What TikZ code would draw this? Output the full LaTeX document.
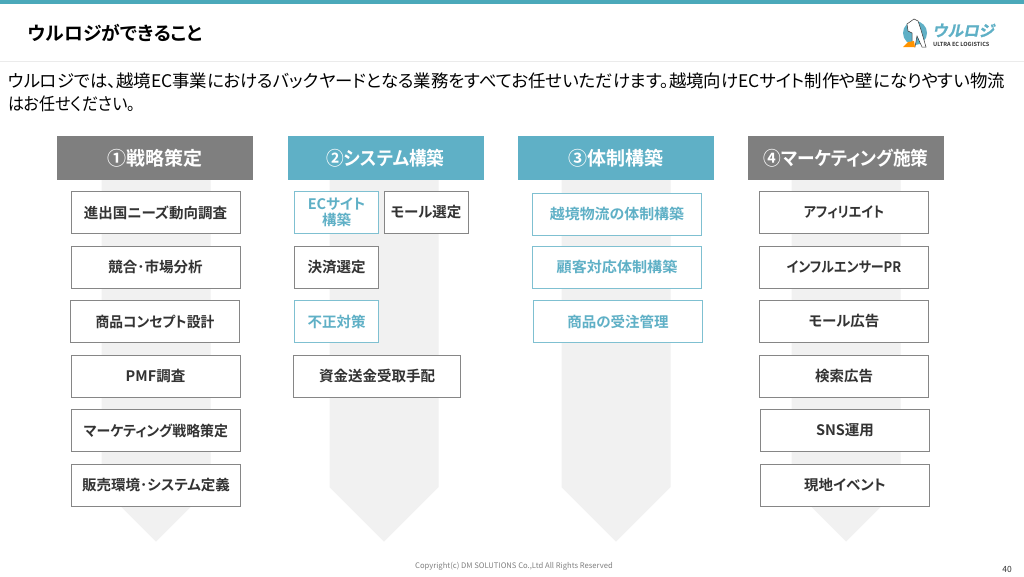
\documentclass[tikz,border=0pt]{standalone}
\usepackage{fontspec}
\setmainfont{Noto Sans CJK JP}[RawFeature={+palt}]
\newfontfamily\jpb{Noto Sans CJK JP Bold}[RawFeature={+palt}]
\newfontfamily\jplogo{Noto Sans CJK JP Bold}[FakeSlant=0.2,FakeBold=1]
\definecolor{teal1}{HTML}{5FB0C6}
\definecolor{topbar}{HTML}{4BA9BA}
\definecolor{grayhead}{HTML}{7F7F7F}
\definecolor{arrowg}{HTML}{F1F1F1}
\definecolor{ink}{HTML}{333333}
\newcommand{\sq}[2]{\scalebox{#1}[1]{#2}}
\tikzset{x=1pt,y=-1pt,
 head/.style={minimum width=196pt,minimum height=44pt,inner sep=0pt,text=white,font=\jpb\fontsize{19}{21}\selectfont},
 bx/.style={draw=gray!95,line width=1pt,fill=white,inner sep=0pt,text=ink,align=center,font=\jpb\fontsize{14.5}{17}\selectfont,minimum height=42pt},
 bt/.style={bx,draw=teal1!80,text=teal1},
 flow/.style={fill=arrowg,draw=none}
}
\newcommand{\bigarrow}[1]{\fill[flow] (#1-54.5,170) -- (#1+54.5,170) -- (#1+54.5,487) -- (#1,541.5) -- (#1-54.5,487) -- cycle;}
\begin{document}
\begin{tikzpicture}
\useasboundingbox (0,0) rectangle (1024,576);
\fill[white] (0,0) rectangle (1024,576);
\fill[topbar] (0,0) rectangle (1024,4);
\draw[draw=black!8,line width=1pt] (0,61.5) -- (1024,61.5);
\node[anchor=west,inner sep=0pt,font=\jpb\fontsize{18.8}{24}\selectfont,text=black] (title) at (28,33) {ウルロジができること};
% logo
\fill[teal1] (915,33) circle (12);
\fill[white,draw=ink,line width=0.5pt] (907,24) -- (914,19) -- (918,21) -- (921,30) -- (926,47) -- (922,47) -- (917,36) -- (915,47) -- (912,46) -- (912,33) -- (908,31) -- cycle;
\fill[orange!85!yellow] (903,47) -- (908,42) -- (914,41) -- (915,47) -- cycle;
\node[anchor=west,inner sep=0pt,text=teal1,font=\jplogo\fontsize{15.5}{18}\selectfont] (logoa) at (932,30.5) {ウルロジ};
\node[anchor=west,inner sep=0pt,text=ink,font=\jpb\fontsize{5.6}{6}\selectfont] (logob) at (933,44) {ULTRA EC LOGISTICS};
% intro
\node[anchor=north west,inner sep=0pt,font=\fontsize{17.4}{23}\selectfont,text=black,align=left] (intro) at (8,72.5) {ウルロジでは、越境EC事業におけるバックヤードとなる業務をすべてお任せいただけます。越境向けECサイト制作や壁になりやすい物流\\\sq{0.92}{はお任せください。}};
% arrows
\bigarrow{156}
\bigarrow{384}
\bigarrow{616}
\bigarrow{846}
% heads
\node[head,fill=grayhead] (h1) at (155,158) {①戦略策定};
\node[head,fill=teal1] (h2) at (385.5,158) {\sq{0.93}{②システム構築}};
\node[head,fill=teal1] (h3) at (616,158) {③体制構築};
\node[head,fill=grayhead] (h4) at (846,158) {\sq{0.93}{④マーケティング施策}};
% col 1
\node[bx,minimum width=169pt] (a1) at (155.5,212.5) {進出国ニーズ動向調査};
\node[bx,minimum width=169pt] (a2) at (155.5,267) {競合･市場分析};
\node[bx,minimum width=169pt] (a3) at (155,321.5) {\sq{0.95}{商品コンセプト設計}};
\node[bx,minimum width=169pt] (a4) at (155.5,376) {PMF調査};
\node[bx,minimum width=169pt] (a5) at (156,430.5) {\sq{0.96}{マーケティング戦略策定}};
\node[bx,minimum width=169pt] (a6) at (156,485) {販売環境･システム定義};
% col 2
\node[bt,minimum width=84pt] (b1) at (336.5,212.5) {ECサイト\\[-1pt]構築};
\node[bx,minimum width=84pt] (b2) at (426,212.5) {モール選定};
\node[bx,minimum width=84pt] (b3) at (336.5,267) {決済選定};
\node[bt,minimum width=84pt] (b4) at (336.5,321.5) {不正対策};
\node[bx,minimum width=167pt] (b5) at (377,376) {資金送金受取手配};
% col 3
\node[bt,minimum width=169pt] (c1) at (617,214) {\sq{1.03}{越境物流の体制構築}};
\node[bt,minimum width=169pt] (c2) at (617,267) {\sq{1.04}{顧客対応体制構築}};
\node[bt,minimum width=169pt] (c3) at (618,321.5) {商品の受注管理};
% col 4
\node[bx,minimum width=169pt] (d1) at (844,212.5) {\sq{0.9}{アフィリエイト}};
\node[bx,minimum width=169pt] (d2) at (844,267) {\sq{0.9}{インフルエンサーPR}};
\node[bx,minimum width=169pt] (d3) at (844,321.5) {モール広告};
\node[bx,minimum width=169pt] (d4) at (844,376) {検索広告};
\node[bx,minimum width=169pt] (d5) at (845,430.5) {SNS運用};
\node[bx,minimum width=169pt] (d6) at (845,485) {現地イベント};
% footer
\node[inner sep=0pt,text=gray,font=\fontsize{7.65}{10}\selectfont] (copy) at (514,566) {Copyright(c) DM SOLUTIONS Co.,Ltd All Rights Reserved};
\node[inner sep=0pt,text=ink,font=\fontsize{8.5}{10}\selectfont] (page) at (1007,569) {40};
\end{tikzpicture}
\end{document}
